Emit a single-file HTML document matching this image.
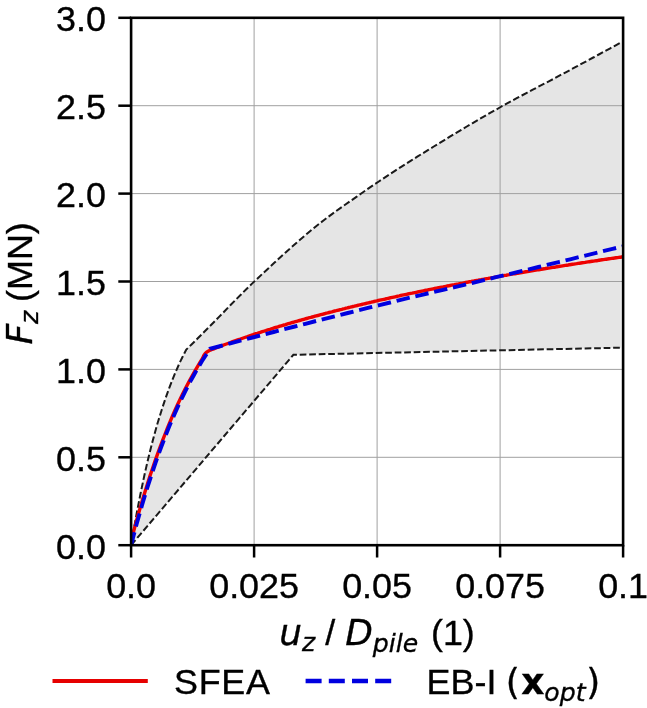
<!DOCTYPE html>
<html><head><meta charset="utf-8"><title>Figure</title>
<style>
html,body{margin:0;padding:0;background:#fff;}
svg{display:block;filter:blur(0.45px);}
text{font-family:"Liberation Sans",sans-serif;font-size:35.9px;fill:#000;stroke:#000;stroke-width:0.35px;}
.m{font-family:"DejaVu Sans",sans-serif;font-style:italic;}
.b{font-family:"DejaVu Sans",sans-serif;font-weight:bold;}
.d{font-family:"DejaVu Sans",sans-serif;}
.s{font-size:25.13px;}
</style></head><body>
<svg width="647" height="708" viewBox="0 0 647 708">
<rect width="647" height="708" fill="#fff"/>
<defs><clipPath id="c"><rect x="131.1" y="17.8" width="492.0" height="527.4000000000001"/></clipPath></defs>
<g clip-path="url(#c)">
<path d="M131.1,545.2 L133.0,534.0 L134.9,523.2 L136.8,512.8 L138.7,502.9 L140.6,493.3 L142.5,484.2 L144.4,475.3 L146.3,466.9 L148.2,458.8 L150.1,451.0 L152.0,443.5 L153.9,436.3 L155.8,429.4 L157.7,422.7 L159.7,416.4 L161.6,410.2 L163.5,404.4 L165.4,398.7 L167.3,393.3 L169.2,388.1 L171.1,383.1 L173.0,378.3 L174.9,373.7 L176.8,369.3 L178.7,365.0 L180.6,360.9 L182.5,357.0 L184.4,353.3 L186.3,349.6 L191.8,344.2 L197.3,338.8 L202.8,333.3 L208.3,327.8 L213.8,322.2 L219.3,316.6 L224.8,311.0 L230.3,305.3 L235.8,299.7 L241.3,294.2 L246.8,288.7 L252.3,283.4 L257.8,278.2 L263.3,273.0 L268.8,267.9 L274.3,262.8 L279.8,257.7 L285.3,252.7 L290.8,247.8 L296.3,243.0 L301.8,238.2 L307.3,233.5 L312.8,229.0 L318.3,224.5 L323.8,220.2 L329.3,216.1 L334.8,212.0 L340.3,208.1 L345.8,204.2 L351.3,200.4 L356.8,196.6 L362.3,192.7 L367.8,188.9 L373.3,185.2 L378.8,181.5 L384.3,177.8 L389.8,174.2 L395.3,170.6 L400.8,167.1 L406.3,163.6 L411.8,160.1 L417.3,156.7 L422.8,153.3 L428.3,149.9 L433.8,146.5 L439.3,143.1 L444.8,139.8 L450.3,136.4 L455.8,133.1 L461.3,129.8 L466.8,126.5 L472.3,123.3 L477.8,120.1 L483.3,116.9 L488.8,113.7 L494.3,110.6 L499.8,107.5 L505.3,104.4 L510.8,101.4 L516.3,98.4 L521.8,95.5 L527.3,92.6 L532.8,89.7 L538.3,86.8 L543.8,83.9 L549.3,81.1 L554.8,78.2 L560.3,75.2 L565.8,72.3 L571.3,69.3 L576.8,66.4 L582.3,63.4 L587.8,60.5 L593.3,57.5 L598.8,54.5 L604.3,51.5 L609.8,48.6 L615.3,45.6 L620.8,42.6 L620.8,347.7 L293.4,354.8 L131.1,545.2Z" fill="#e5e5e5"/>
</g>
<g stroke="#a0a0a0" stroke-width="1"><line x1="254.1" y1="17.8" x2="254.1" y2="545.2"/><line x1="377.1" y1="17.8" x2="377.1" y2="545.2"/><line x1="500.1" y1="17.8" x2="500.1" y2="545.2"/><line x1="131.1" y1="457.3" x2="623.1" y2="457.3"/><line x1="131.1" y1="369.4" x2="623.1" y2="369.4"/><line x1="131.1" y1="281.5" x2="623.1" y2="281.5"/><line x1="131.1" y1="193.6" x2="623.1" y2="193.6"/><line x1="131.1" y1="105.7" x2="623.1" y2="105.7"/></g>
<g clip-path="url(#c)" fill="none">
<path d="M131.1,545.2 L133.0,534.0 L134.9,523.2 L136.8,512.8 L138.7,502.9 L140.6,493.3 L142.5,484.2 L144.4,475.3 L146.3,466.9 L148.2,458.8 L150.1,451.0 L152.0,443.5 L153.9,436.3 L155.8,429.4 L157.7,422.7 L159.7,416.4 L161.6,410.2 L163.5,404.4 L165.4,398.7 L167.3,393.3 L169.2,388.1 L171.1,383.1 L173.0,378.3 L174.9,373.7 L176.8,369.3 L178.7,365.0 L180.6,360.9 L182.5,357.0 L184.4,353.3 L186.3,349.6 L191.8,344.2 L197.3,338.8 L202.8,333.3 L208.3,327.8 L213.8,322.2 L219.3,316.6 L224.8,311.0 L230.3,305.3 L235.8,299.7 L241.3,294.2 L246.8,288.7 L252.3,283.4 L257.8,278.2 L263.3,273.0 L268.8,267.9 L274.3,262.8 L279.8,257.7 L285.3,252.7 L290.8,247.8 L296.3,243.0 L301.8,238.2 L307.3,233.5 L312.8,229.0 L318.3,224.5 L323.8,220.2 L329.3,216.1 L334.8,212.0 L340.3,208.1 L345.8,204.2 L351.3,200.4 L356.8,196.6 L362.3,192.7 L367.8,188.9 L373.3,185.2 L378.8,181.5 L384.3,177.8 L389.8,174.2 L395.3,170.6 L400.8,167.1 L406.3,163.6 L411.8,160.1 L417.3,156.7 L422.8,153.3 L428.3,149.9 L433.8,146.5 L439.3,143.1 L444.8,139.8 L450.3,136.4 L455.8,133.1 L461.3,129.8 L466.8,126.5 L472.3,123.3 L477.8,120.1 L483.3,116.9 L488.8,113.7 L494.3,110.6 L499.8,107.5 L505.3,104.4 L510.8,101.4 L516.3,98.4 L521.8,95.5 L527.3,92.6 L532.8,89.7 L538.3,86.8 L543.8,83.9 L549.3,81.1 L554.8,78.2 L560.3,75.2 L565.8,72.3 L571.3,69.3 L576.8,66.4 L582.3,63.4 L587.8,60.5 L593.3,57.5 L598.8,54.5 L604.3,51.5 L609.8,48.6 L615.3,45.6 L620.8,42.6" stroke="#1a1a1a" stroke-width="2" stroke-dasharray="6.7 2.8"/>
<path d="M131.1,545.2 L293.4,354.8 L620.8,347.7" stroke="#1a1a1a" stroke-width="2" stroke-dasharray="6.7 2.8"/>
<path d="M130.1,544.8 L132.6,535.2 L135.1,525.9 L137.6,516.8 L140.1,508.1 L142.6,499.6 L145.1,491.4 L147.6,483.4 L150.1,475.6 L152.6,468.2 L155.1,460.9 L157.6,453.9 L160.1,447.0 L162.6,440.4 L165.1,434.0 L167.5,427.8 L170.0,421.8 L172.5,415.9 L175.0,410.3 L177.5,404.8 L180.0,399.5 L182.5,394.3 L185.0,389.3 L187.5,384.5 L190.0,379.8 L192.5,375.3 L195.0,370.8 L197.5,366.6 L200.0,362.4 L202.5,358.4 L203.9,355.4 L205.3,353.3 L206.7,352.1 L208.1,351.2 L209.5,350.5 L210.9,349.9 L212.3,349.3 L213.8,348.8 L215.2,348.2 L216.6,347.7 L218.0,347.1 L219.4,346.6 L220.8,346.1 L222.2,345.6 L223.6,345.0 L225.0,344.5 L226.4,344.0 L227.8,343.5 L229.2,343.0 L230.6,342.5 L232.0,341.9 L233.4,341.4 L234.9,340.9 L236.3,340.4 L237.7,339.9 L239.1,339.5 L240.5,339.0 L241.9,338.5 L243.3,338.0 L244.7,337.5 L246.1,337.0 L247.5,336.6 L248.9,336.1 L250.3,335.6 L251.7,335.1 L253.1,334.7 L254.5,334.2 L256.0,333.7 L257.4,333.3 L258.8,332.8 L260.2,332.4 L261.6,331.9 L263.0,331.5 L264.4,331.0 L265.8,330.6 L267.2,330.1 L268.6,329.7 L270.0,329.3 L271.4,328.8 L272.8,328.4 L274.2,327.9 L275.6,327.5 L277.1,327.1 L278.5,326.7 L279.9,326.2 L281.3,325.8 L282.7,325.4 L284.1,325.0 L285.5,324.6 L286.9,324.1 L288.3,323.7 L289.7,323.3 L291.1,322.9 L292.5,322.5 L293.9,322.1 L295.3,321.7 L296.7,321.3 L298.2,320.9 L299.6,320.5 L301.0,320.1 L302.4,319.7 L303.8,319.3 L305.2,318.9 L306.6,318.5 L308.0,318.1 L309.4,317.7 L310.8,317.4 L312.2,317.0 L313.6,316.6 L315.0,316.2 L316.4,315.8 L317.8,315.5 L319.3,315.1 L320.7,314.7 L322.1,314.3 L323.5,314.0 L324.9,313.6 L326.3,313.2 L327.7,312.9 L329.1,312.5 L330.5,312.1 L331.9,311.8 L333.3,311.4 L334.7,311.0 L336.1,310.7 L337.5,310.3 L338.9,310.0 L340.4,309.6 L341.8,309.3 L343.2,308.9 L344.6,308.6 L346.0,308.2 L347.4,307.9 L348.8,307.5 L350.2,307.2 L351.6,306.8 L353.0,306.5 L354.4,306.2 L355.8,305.8 L357.2,305.5 L358.6,305.1 L360.0,304.8 L361.5,304.5 L362.9,304.1 L364.3,303.8 L365.7,303.5 L367.1,303.1 L368.5,302.8 L369.9,302.5 L371.3,302.2 L372.7,301.8 L374.1,301.5 L375.5,301.2 L376.9,300.9 L378.3,300.5 L379.7,300.2 L381.1,299.9 L382.6,299.6 L384.0,299.3 L385.4,299.0 L386.8,298.6 L388.2,298.3 L389.6,298.0 L391.0,297.7 L392.4,297.4 L393.8,297.1 L395.2,296.8 L396.6,296.5 L398.0,296.2 L399.4,295.9 L400.8,295.5 L402.2,295.2 L403.7,294.9 L405.1,294.6 L406.5,294.3 L407.9,294.0 L409.3,293.7 L410.7,293.4 L412.1,293.2 L413.5,292.9 L414.9,292.6 L416.3,292.3 L417.7,292.0 L419.1,291.7 L420.5,291.4 L421.9,291.1 L423.4,290.8 L424.8,290.5 L426.2,290.2 L427.6,290.0 L429.0,289.7 L430.4,289.4 L431.8,289.1 L433.2,288.8 L434.6,288.5 L436.0,288.3 L437.4,288.0 L438.8,287.7 L440.2,287.4 L441.6,287.1 L443.0,286.9 L444.5,286.6 L445.9,286.3 L447.3,286.0 L448.7,285.8 L450.1,285.5 L451.5,285.2 L452.9,284.9 L454.3,284.7 L455.7,284.4 L457.1,284.1 L458.5,283.9 L459.9,283.6 L461.3,283.3 L462.7,283.1 L464.1,282.8 L465.6,282.5 L467.0,282.3 L468.4,282.0 L469.8,281.7 L471.2,281.5 L472.6,281.2 L474.0,281.0 L475.4,280.7 L476.8,280.4 L478.2,280.2 L479.6,279.9 L481.0,279.7 L482.4,279.4 L483.8,279.2 L485.2,278.9 L486.7,278.6 L488.1,278.4 L489.5,278.1 L490.9,277.9 L492.3,277.6 L493.7,277.4 L495.1,277.1 L496.5,276.9 L497.9,276.6 L499.3,276.4 L500.7,276.1 L502.1,275.9 L503.5,275.7 L504.9,275.4 L506.3,275.2 L507.8,274.9 L509.2,274.7 L510.6,274.4 L512.0,274.2 L513.4,273.9 L514.8,273.7 L516.2,273.5 L517.6,273.2 L519.0,273.0 L520.4,272.7 L521.8,272.5 L523.2,272.3 L524.6,272.0 L526.0,271.8 L527.4,271.6 L528.9,271.3 L530.3,271.1 L531.7,270.9 L533.1,270.6 L534.5,270.4 L535.9,270.2 L537.3,269.9 L538.7,269.7 L540.1,269.5 L541.5,269.2 L542.9,269.0 L544.3,268.8 L545.7,268.5 L547.1,268.3 L548.5,268.1 L550.0,267.9 L551.4,267.6 L552.8,267.4 L554.2,267.2 L555.6,267.0 L557.0,266.7 L558.4,266.5 L559.8,266.3 L561.2,266.1 L562.6,265.8 L564.0,265.6 L565.4,265.4 L566.8,265.2 L568.2,265.0 L569.6,264.7 L571.1,264.5 L572.5,264.3 L573.9,264.1 L575.3,263.9 L576.7,263.7 L578.1,263.4 L579.5,263.2 L580.9,263.0 L582.3,262.8 L583.7,262.6 L585.1,262.4 L586.5,262.1 L587.9,261.9 L589.3,261.7 L590.7,261.5 L592.2,261.3 L593.6,261.1 L595.0,260.9 L596.4,260.7 L597.8,260.5 L599.2,260.2 L600.6,260.0 L602.0,259.8 L603.4,259.6 L604.8,259.4 L606.2,259.2 L607.6,259.0 L609.0,258.8 L610.4,258.6 L611.8,258.4 L613.3,258.2 L614.7,258.0 L616.1,257.8 L617.5,257.6 L618.9,257.4 L620.3,257.2 L621.7,257.0 L623.1,256.8" stroke="#ee0000" stroke-width="3.4"/>
<path d="M131.1,545.2 L133.8,534.7 L136.5,524.6 L139.3,514.8 L142.0,505.3 L144.7,496.2 L147.4,487.4 L150.2,478.8 L152.9,470.6 L155.6,462.6 L158.3,454.9 L161.1,447.4 L163.8,440.2 L166.5,433.2 L169.2,426.5 L172.0,420.0 L174.7,413.7 L177.4,407.6 L180.1,401.8 L182.9,396.1 L185.6,390.6 L188.3,385.3 L191.0,380.2 L193.8,375.2 L196.5,370.4 L199.2,365.8 L201.9,361.3 L204.7,357.0 L207.4,352.8 L210.1,348.8 L220.7,346.0 L231.3,343.1 L241.9,340.3 L252.5,337.5 L263.0,334.7 L273.6,332.0 L284.2,329.2 L294.8,326.5 L305.4,323.8 L316.0,321.0 L326.6,318.3 L337.2,315.7 L347.8,313.0 L358.4,310.3 L368.9,307.7 L379.5,305.1 L390.1,302.5 L400.7,299.9 L411.3,297.3 L421.9,294.8 L432.5,292.3 L443.1,289.8 L453.7,287.3 L464.3,284.8 L474.8,282.3 L485.4,279.8 L496.0,277.2 L506.6,274.7 L517.2,272.1 L527.8,269.6 L538.4,267.0 L549.0,264.4 L559.6,261.8 L570.2,259.3 L580.7,256.7 L591.3,254.1 L601.9,251.5 L612.5,248.9 L623.1,246.3" stroke="#0000e0" stroke-width="3.9" stroke-dasharray="13.5 5.8"/>
</g>
<g stroke="#000" stroke-width="2.5"><line x1="131.1" y1="545.2" x2="131.1" y2="557.5"/><line x1="254.1" y1="545.2" x2="254.1" y2="557.5"/><line x1="377.1" y1="545.2" x2="377.1" y2="557.5"/><line x1="500.1" y1="545.2" x2="500.1" y2="557.5"/><line x1="623.1" y1="545.2" x2="623.1" y2="557.5"/><line x1="118.3" y1="545.2" x2="131.1" y2="545.2"/><line x1="118.3" y1="457.3" x2="131.1" y2="457.3"/><line x1="118.3" y1="369.4" x2="131.1" y2="369.4"/><line x1="118.3" y1="281.5" x2="131.1" y2="281.5"/><line x1="118.3" y1="193.6" x2="131.1" y2="193.6"/><line x1="118.3" y1="105.7" x2="131.1" y2="105.7"/><line x1="118.3" y1="17.8" x2="131.1" y2="17.8"/></g>
<rect x="131.1" y="17.8" width="492.0" height="527.4000000000001" fill="none" stroke="#000" stroke-width="2.6"/>
<g><text x="131.1" y="597.9" text-anchor="middle">0.0</text><text x="254.1" y="597.9" text-anchor="middle">0.025</text><text x="377.1" y="597.9" text-anchor="middle">0.05</text><text x="500.1" y="597.9" text-anchor="middle">0.075</text><text x="623.1" y="597.9" text-anchor="middle">0.1</text></g>
<g><text x="106" y="558.5" text-anchor="end">0.0</text><text x="106" y="470.6" text-anchor="end">0.5</text><text x="106" y="382.7" text-anchor="end">1.0</text><text x="106" y="294.8" text-anchor="end">1.5</text><text x="106" y="206.9" text-anchor="end">2.0</text><text x="106" y="119.0" text-anchor="end">2.5</text><text x="106" y="31.1" text-anchor="end">3.0</text></g>
<text x="279.3" y="645.4"><tspan class="m">u</tspan><tspan class="m s" dy="6">z</tspan><tspan dy="-6"> / </tspan><tspan class="m">D</tspan><tspan class="m s" dy="7">pile</tspan><tspan dy="-7" dx="2.8"> (1)</tspan></text>
<text transform="translate(31.5,344.6) rotate(-90)"><tspan class="m">F</tspan><tspan class="m s" dy="6">z</tspan><tspan dy="-6" dx="-1.2"> (MN)</tspan></text>
<line x1="52.5" y1="681" x2="147.8" y2="681" stroke="#e60000" stroke-width="3.9"/>
<text x="174" y="694.4" textLength="96" lengthAdjust="spacing">SFEA</text>
<line x1="305.6" y1="681" x2="398" y2="681" stroke="#0000e0" stroke-width="4.3" stroke-dasharray="16 7.2"/>
<text x="426.6" y="694.4">EB-I <tspan class="d" dx="-0.7">(</tspan><tspan class="b" dx="1.5">x</tspan><tspan class="m s" dy="7">opt</tspan><tspan class="d" dy="-7" dx="0.6">)</tspan></text>
</svg>
</body></html>
